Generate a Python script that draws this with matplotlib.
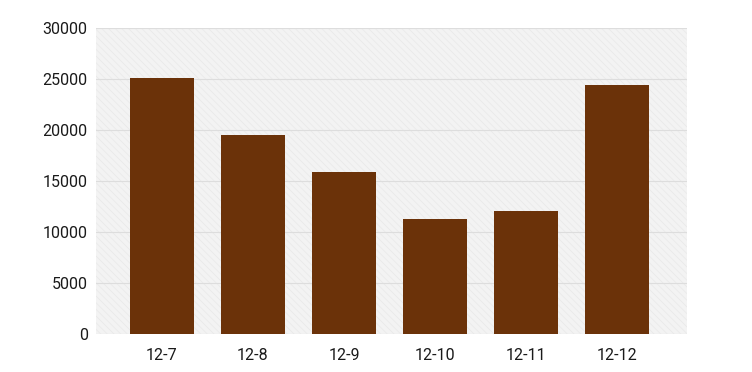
import matplotlib
matplotlib.use("Agg")
import matplotlib.pyplot as plt
from matplotlib.patches import Rectangle

categories = ["12-7", "12-8", "12-9", "12-10", "12-11", "12-12"]
values = [25100, 19550, 15850, 11300, 12100, 24400]
yticks = [0, 5000, 10000, 15000, 20000, 25000, 30000]

plt.rcParams['font.family'] = ['Roboto', 'DejaVu Sans']
plt.rcParams['hatch.linewidth'] = 0.5

fig = plt.figure(figsize=(7.52, 3.72), dpi=100)
ax = fig.add_axes([96/752, 1-334/372, (687-96)/752, (334-28)/372])
ax.set_facecolor('#f3f3f3')
bg = Rectangle((0, 0), 1, 1, transform=ax.transAxes, facecolor='#f3f3f3',
               edgecolor='#e8e8e8', hatch='\\\\\\\\\\', linewidth=0, zorder=0)
ax.add_patch(bg)

x = list(range(len(categories)))
ax.bar(x, values, width=0.70, color='#6b3209', zorder=3)
ax.set_xticks(x)
ax.set_xticklabels(categories)
ax.set_yticks(yticks)
ax.set_ylim(0, 30000)
ax.set_xlim(-0.725, 5.77)
ax.yaxis.grid(True, color='#dddddd', linewidth=0.8, zorder=1)
ax.set_axisbelow(True)
for s in ax.spines.values():
    s.set_visible(False)
ax.tick_params(axis='both', length=0, labelsize=11.5, colors='#1a1a1a')
ax.tick_params(axis='x', pad=10)
ax.tick_params(axis='y', pad=6)

fig.savefig('out.png', dpi=100)
